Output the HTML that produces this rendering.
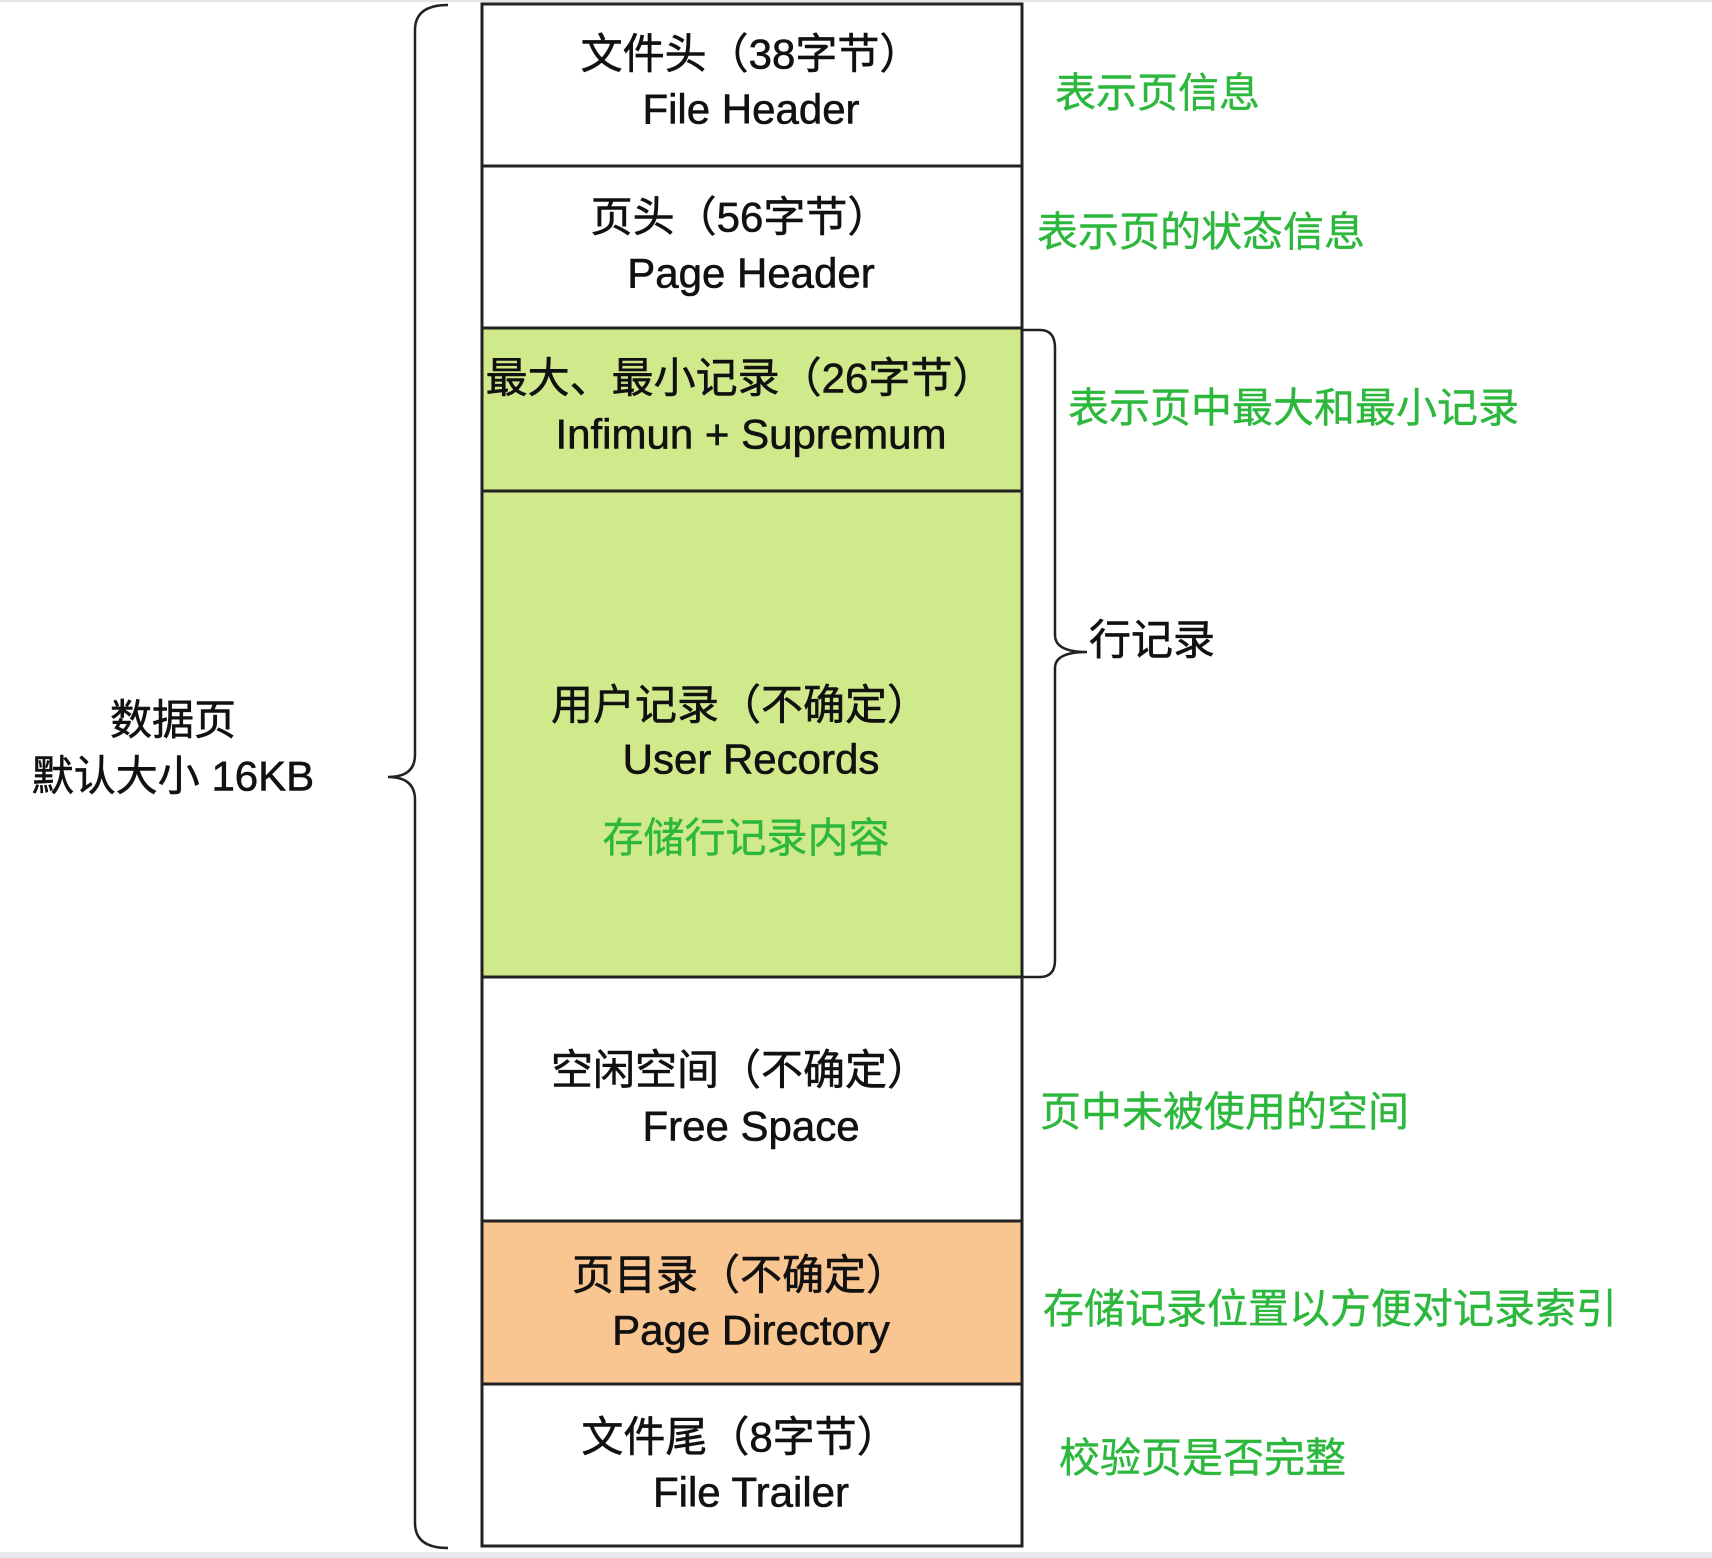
<!DOCTYPE html>
<html><head><meta charset="utf-8"><style>
html,body{margin:0;padding:0;background:#fff;width:1712px;height:1558px;overflow:hidden}
svg text{font-family:"Liberation Sans","Noto Sans CJK SC",sans-serif;}
</style></head><body>
<svg width="1712" height="1558" viewBox="0 0 1712 1558" xmlns="http://www.w3.org/2000/svg">
<rect x="0" y="0" width="1712" height="2" fill="#e4e4e4"/>
<rect x="0" y="1552" width="1712" height="6" fill="#e8eaf0"/>
<g stroke="#222" stroke-width="3">
<rect x="482" y="4" width="540" height="162" fill="#fff"/>
<rect x="482" y="166" width="540" height="162" fill="#fff"/>
<rect x="482" y="328" width="540" height="163" fill="#cfe98b"/>
<rect x="482" y="491" width="540" height="486" fill="#cfe98b"/>
<rect x="482" y="977" width="540" height="244" fill="#fff"/>
<rect x="482" y="1221" width="540" height="163" fill="#f9c590"/>
<rect x="482" y="1384" width="540" height="162" fill="#fff"/>
</g>
<g fill="none" stroke="#222" stroke-width="2.5">
<path d="M448 5 Q415 5 415 30 L415 755 Q415 777 388 777 Q415 777 415 800 L415 1523 Q415 1548 448 1548"/>
<path d="M1022 330 L1040 330 Q1055 330 1055 348 L1055 635 Q1055 652 1087 652 Q1055 652 1055 668 L1055 960 Q1055 977 1040 977 L1022 977"/>
</g>
<g font-size="42" fill="#111" stroke="#111" stroke-width="0.6" text-anchor="middle" dominant-baseline="central">
<text x="751" y="54">文件头（38字节）</text>
<text x="751" y="109">File Header</text>
<text x="740" y="217">页头（56字节）</text>
<text x="751" y="273">Page Header</text>
<text x="740" y="378">最大、最小记录（26字节）</text>
<text x="751" y="434">Infimun + Supremum</text>
<text x="740" y="705">用户记录（不确定）</text>
<text x="751" y="759">User Records</text>
<text x="740" y="1070">空闲空间（不确定）</text>
<text x="751" y="1126">Free Space</text>
<text x="740" y="1275">页目录（不确定）</text>
<text x="751" y="1330">Page Directory</text>
<text x="740" y="1437">文件尾（8字节）</text>
<text x="751" y="1492">File Trailer</text>
<text x="173" y="720">数据页</text>
<text x="173" y="776">默认大小 16KB</text>
</g>
<text x="1089" y="640" font-size="42" fill="#111" stroke="#111" stroke-width="0.6" dominant-baseline="central">行记录</text>
<g font-size="41" fill="#2db83d" stroke="#2db83d" stroke-width="0.4" dominant-baseline="central">
<text x="746" y="838" text-anchor="middle">存储行记录内容</text>
<text x="1055" y="93">表示页信息</text>
<text x="1037" y="232">表示页的状态信息</text>
<text x="1068" y="408">表示页中最大和最小记录</text>
<text x="1040" y="1112">页中未被使用的空间</text>
<text x="1043" y="1309">存储记录位置以方便对记录索引</text>
<text x="1059" y="1458">校验页是否完整</text>
</g>
</svg>
</body></html>
